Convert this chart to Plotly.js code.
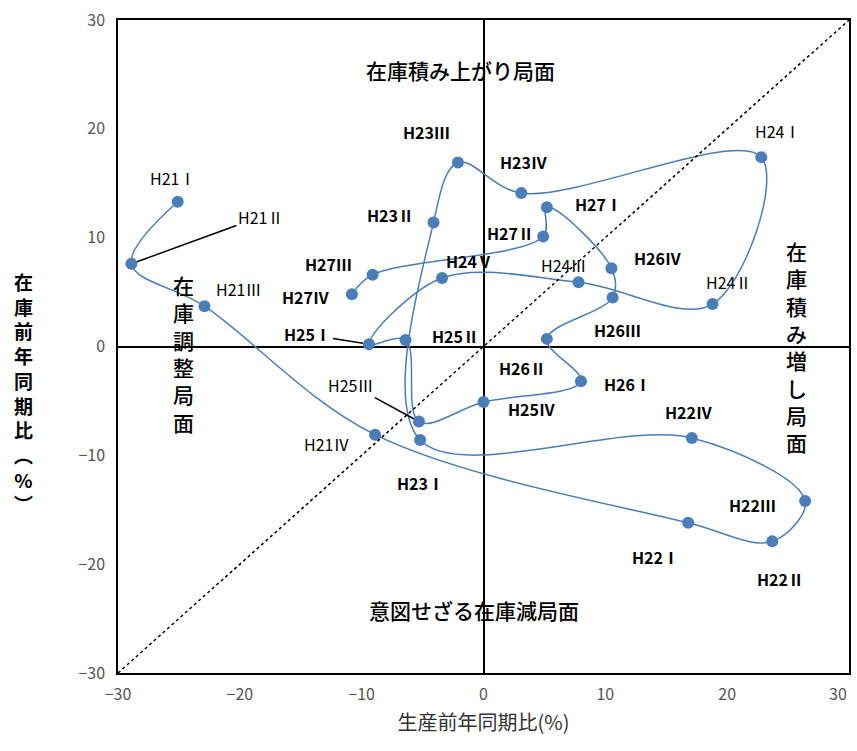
<!DOCTYPE html>
<html><head><meta charset="utf-8">
<script src="https://cdn.plot.ly/plotly-3.0.1.min.js"></script>
<style>body{margin:0;background:#fff}</style>
</head><body><div id="graph"></div>
<script>
var labels = ['H21Ⅰ','H21Ⅱ','H21Ⅲ','H21Ⅳ','H22Ⅰ','H22Ⅱ','H22Ⅲ','H22Ⅳ','H23Ⅰ','H23Ⅱ','H23Ⅲ','H23Ⅳ','H24Ⅰ','H24Ⅱ','H24Ⅲ','H24Ⅴ','H25Ⅰ','H25Ⅱ','H25Ⅲ','H25Ⅳ','H26Ⅰ','H26Ⅱ','H26Ⅲ','H26Ⅳ','H27Ⅰ','H27Ⅱ','H27Ⅲ','H27Ⅳ'];
var production = [-25.1,-28.9,-22.9,-8.9,16.8,23.7,26.4,17.1,-5.2,-4.1,-2.1,3.1,22.8,18.8,7.8,-3.4,-9.4,-6.4,-5.3,0.0,8.0,5.2,10.6,10.5,5.2,4.9,-9.1,-10.8];
var inventory = [13.3,7.6,3.7,-8.1,-16.2,-17.9,-14.2,-8.4,-8.6,11.4,16.9,14.1,17.4,3.9,5.9,6.3,0.2,0.6,-6.9,-5.1,-3.2,0.7,4.5,7.2,12.8,10.1,6.6,4.8];
var boldLabel = [0,0,0,0,1,1,1,1,1,1,1,1,0,0,0,1,1,1,0,1,1,1,1,1,1,1,1,1];

// label offsets in pixels
var offX = [-5,129,34,-49,-33,8,-53,-3,0,-43,-31,2,16,16,-15,27,-61,50,-68,48,47,-24,5,46,52,-33,-44,-46];
var offY = [-24,-47,-17,9,34,38,4,-26,43,-7,-31,-31,-26,-22,-17,-17,-10,-4,-37,7,3,29,32,-10,-3,-4,-11,3];
var withLine = {'H21Ⅱ':1,'H25Ⅰ':1,'H25Ⅲ':1};

var F = '"Noto Sans CJK JP", sans-serif';
var ann = labels.map(function(l,i){
  var a = {x:production[i], y:inventory[i], xref:'x', yref:'y',
    text: boldLabel[i] ? '<b>'+l+'</b>' : l,
    font:{family:F, size:16, color:'#000'}};
  if (withLine[l]) {
    a.showarrow = true; a.arrowhead = 0; a.arrowwidth = 1.5; a.arrowcolor = '#000';
    a.ax = offX[i]; a.ay = offY[i]; a.standoff = 6;
  } else {
    a.showarrow = false; a.xshift = offX[i]; a.yshift = -offY[i];
  }
  return a;
});
function vert(s){ return s.split('').join('<br>'); }
var RF = {family:F,size:21,color:'#000',weight:500};
ann.push({x:0.468,y:0.95,xref:'paper',yref:'paper',text:'在庫積み上がり局面',showarrow:false,font:RF});
ann.push({x:0.487,y:0.07,xref:'paper',yref:'paper',text:'意図せざる在庫減局面',showarrow:false,font:RF});
ann.push({x:0.945,y:0.5,xref:'paper',yref:'paper',text:vert('在庫積み増し局面'),showarrow:false,font:RF});
ann.push({x:0.072,y:0.49,xref:'paper',yref:'paper',text:vert('在庫調整局面'),showarrow:false,font:RF});
ann.push({x:-0.145,y:0.43,xref:'paper',yref:'paper',text:'<b>'+vert('在庫前年同期比')+'<br>︵<br>%<br>︶</b>',showarrow:false,font:{family:F,size:19,color:'#000'}});
ann.push({x:1,y:0,xref:'paper',yref:'paper',yanchor:'top',yshift:-6,text:'30',showarrow:false,font:{family:F,size:16,color:'#555'}});

var trace = {x:production, y:inventory, mode:'lines+markers', type:'scatter',
  line:{shape:'spline', smoothing:1, color:'#4a7ebb', width:1.5},
  marker:{color:'#4a7ebb', size:12}};

var ax = {range:[-30,30], dtick:10, showgrid:false, zeroline:true, zerolinecolor:'#000', zerolinewidth:2,
  showline:true, mirror:true, linecolor:'#000', linewidth:1.5, ticks:'',
  tickfont:{family:F, size:16, color:'#555'}};
var layout = {width:857, height:751, margin:{l:118,r:8,t:20,b:78},
  paper_bgcolor:'#fff', plot_bgcolor:'#fff', showlegend:false,
  xaxis:Object.assign({}, ax, {ticklabelstandoff:6, title:{text:'生産前年同期比(%)', font:{family:F,size:20,color:'#333'}, standoff:12}}),
  yaxis:Object.assign({}, ax, {ticklabelstandoff:8}),
  shapes:[{type:'line',xref:'x',yref:'y',x0:-30,y0:-30,x1:30,y1:30,line:{color:'#000',width:1.5,dash:'dot'}}],
  annotations:ann};
Plotly.newPlot('graph',[trace],layout,{displayModeBar:false});
</script></body></html>
